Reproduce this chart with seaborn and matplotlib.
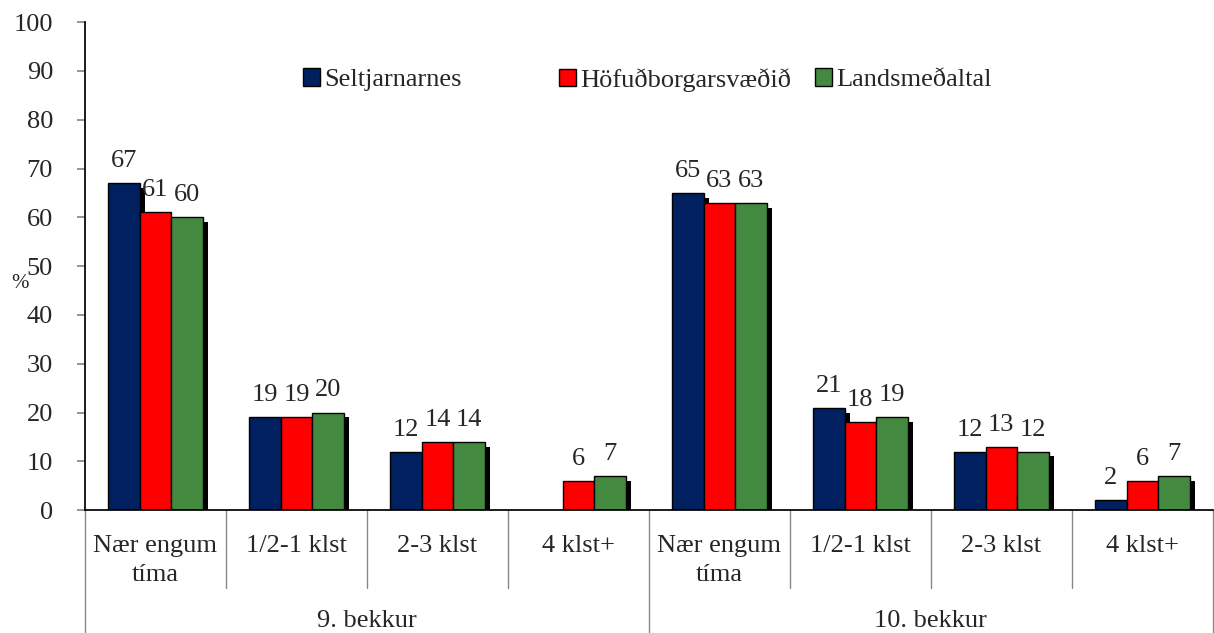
import numpy as np
import pandas as pd
import matplotlib
matplotlib.use("Agg")
import matplotlib.pyplot as plt
import matplotlib.patheffects as pe
import seaborn as sns

# --- data ---
grades = ["9. bekkur", "10. bekkur"]
hours = ["Nær engum\ntíma", "1/2-1 klst", "2-3 klst", "4 klst+"]
series = ["Seltjarnarnes", "Höfuðborgarsvæðið", "Landsmeðaltal"]
seltjarnarnes = [67, 19, 12, np.nan, 65, 21, 12, 2]
hofudborg = [61, 19, 14, 6, 63, 18, 13, 6]
landsmedaltal = [60, 20, 14, 7, 63, 19, 12, 7]
colors = ["#002060", "#FF0000", "#438A40"]

cats = [f"{g}|{h}" for g in grades for h in hours]
rows = []
for name, vals in zip(series, [seltjarnarnes, hofudborg, landsmedaltal]):
    for c, v in zip(cats, vals):
        rows.append({"cat": c, "serie": name, "val": v})
df = pd.DataFrame(rows)

sns.set_theme(style="white")
plt.rcParams["font.family"] = ["Liberation Serif", "DejaVu Serif"]
FS = 19

fig = plt.figure(figsize=(12.14, 6.33), dpi=100)
ax = fig.add_axes([0.070, 0.194, 0.929, 0.771])

sns.barplot(data=df, x="cat", y="val", hue="serie", order=cats,
            hue_order=series, palette=colors, width=0.67,
            edgecolor="black", linewidth=1, saturation=1, ax=ax,
            legend=False)

# legend: one entry per column, evenly spaced starts like the original
handles = [plt.Rectangle((0, 0), 1, 1, facecolor=c, edgecolor="black", lw=1)
           for c in colors]
for k, (h, name) in enumerate(zip(handles, series)):
    fig.legend([h], [name], loc="center left",
               bbox_to_anchor=(0.193 + 0.227 * k, 0.882),
               bbox_transform=ax.transAxes, frameon=False,
               fontsize=FS, handlelength=0.65, handleheight=0.65,
               handletextpad=0.15, borderpad=0, borderaxespad=0)

shadow = [pe.SimplePatchShadow(offset=(4, -3.5), shadow_rgbFace="black", alpha=1),
          pe.Normal()]
for bar in ax.patches:
    bar.set_path_effects(shadow)

for cont in ax.containers:
    labels = ["" if np.isnan(v) else f"{v:.0f}" for v in cont.datavalues]
    ax.bar_label(cont, labels=labels, padding=8, fontsize=FS)

ax.set_xlim(-0.5, len(cats) - 0.5)
ax.set_ylim(0, 100)
ax.set_yticks(range(0, 101, 10))
ax.tick_params(axis="y", labelsize=FS, length=6, color="#888888",
               direction="out", left=True, pad=17)
ax.set_xticks([])
ax.set_xlabel("")
ax.set_ylabel("%", fontsize=15, rotation=0, va="center")
ax.yaxis.set_label_coords(-0.058, 0.465)
for s in ["top", "right"]:
    ax.spines[s].set_visible(False)
ax.spines["left"].set_color("black")
ax.spines["bottom"].set_color("black")

trans = ax.get_xaxis_transform()
for i, c in enumerate(cats):
    ax.text(i, -0.05, c.split("|")[1], transform=trans, ha="center",
            va="top", fontsize=FS, linespacing=1.45)
for i in range(len(cats) + 1):
    low = -0.255 if i % len(hours) == 0 else -0.16
    ax.plot([i - 0.5, i - 0.5], [0, low], transform=trans, color="#888888",
            lw=1, clip_on=False)
for j, g in enumerate(grades):
    mid = j * len(hours) + (len(hours) - 1) / 2
    ax.text(mid, -0.227, g, transform=trans, ha="center", va="center",
            fontsize=FS)

fig.savefig("out.png", dpi=100)
